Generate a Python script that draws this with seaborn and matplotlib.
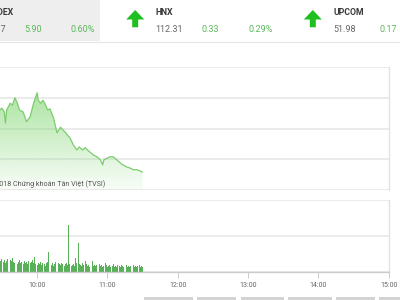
import numpy as np
import pandas as pd
import matplotlib
matplotlib.use("Agg")
import matplotlib.pyplot as plt
import seaborn as sns
from matplotlib.patches import Polygon, Rectangle

# ---------------- data ----------------
line_times = ["09:28", "09:30", "09:32", "09:33", "09:34", "09:37", "09:39", "09:41", "09:43", "09:45",
              "09:48", "09:51", "09:54", "09:57", "10:00", "10:01", "10:03", "10:05", "10:07", "10:09",
              "10:11", "10:14", "10:17", "10:20", "10:22", "10:24", "10:26", "10:28", "10:31",
              "10:34", "10:36", "10:37", "10:39", "10:41", "10:43", "10:45", "10:48", "10:51", "10:54",
              "10:56", "10:57", "11:00", "11:02", "11:05", "11:08", "11:11", "11:13",
              "11:17", "11:19", "11:22", "11:25", "11:28", "11:30"]
line_values = [998.0, 998.3, 997.7, 995.9, 998.0, 999.1, 998.8, 1000.0, 999.2, 998.0,
               997.7, 996.1, 996.9, 999.1, 1000.8, 999.6, 999.1, 999.6, 998.9, 998.0,
               998.2, 996.7, 994.3, 995.2, 994.8, 994.4, 993.9, 993.5, 992.3,
               991.5, 992.0, 991.8, 991.5, 991.9, 991.5, 991.2, 990.7, 990.4, 989.9,
               989.1, 989.9, 990.2, 990.4, 990.4, 989.9, 989.4, 989.1,
               988.7, 988.6, 988.3, 988.3, 988.1, 987.9]

vol_start = "09:28"
vol_values = [168, 154, 182, 140, 168, 126, 154, 182, 140, 168, 154, 196,
              140, 126, 154, 112, 140, 168, 126, 140, 112, 154,
              126, 140, 112, 154, 126, 140, 168, 126, 210, 112,
              98, 126, 112, 140, 98, 126, 112, 84, 126, 140,
              280, 112, 98, 126, 84, 112, 140, 98, 126, 112,
              98, 126, 112, 84, 112, 126, 98, 658, 112, 84,
              98, 112, 84, 196, 126, 406, 112, 98, 84, 126,
              98, 154, 112, 84, 98, 70, 112, 154, 84, 98,
              84, 98, 70, 112, 84, 98, 70, 84, 126, 98,
              70, 84, 98, 70, 84, 112, 70, 84, 70, 98,
              84, 70, 98, 84, 70, 84, 98, 70, 84, 70,
              84, 70, 98, 70, 84, 70, 84, 98, 70, 84,
              70]

tick_labels = ["10:00", "11:00", "12:00", "13:00", "14:00", "15:00"]
price_grid = [985, 990, 995, 1000, 1005]
vol_grid = [0, 500, 1000]

names = ["VNINDEX", "HNX", "UPCOM"]
index_values = ["989.17", "112.31", "51.98"]
changes = ["5.90", "0.33", "0.17"]
pcts = ["0.60%", "0.29%", "0.59%"]
watermark = "© 2018 Chứng khoán Tân Việt (TVSI)"

# ---------------- helpers ----------------
def to_min(s):
    h, m = s.split(":")
    return int(h) * 60 + int(m)

W, H = 400, 300
def fx(x): return x / W
def fy(y): return 1 - y / H

df = pd.DataFrame({"t": [to_min(s) for s in line_times], "v": line_values})
v0 = to_min(vol_start)
vdf = pd.DataFrame({"t": np.arange(v0, v0 + len(vol_values)), "vol": vol_values})
tick_pos = [to_min(s) for s in tick_labels]

sns.set_theme(style="white")
plt.rcParams["font.family"] = ["Roboto", "DejaVu Sans"]

fig = plt.figure(figsize=(4, 3), dpi=100)
fig.patch.set_facecolor("white")

x_left_px, x_right_px = -33.2, 388.6
xmin, xmax = 540, 900

# ---------------- price chart ----------------
ax = fig.add_axes([fx(x_left_px), fy(190), (x_right_px - x_left_px) / W, 123 / H])
ax.set_xlim(xmin, xmax)
ax.set_ylim(price_grid[0], price_grid[-1])
ax.set_yticks(price_grid)
ax.set_xticks([])
ax.yaxis.grid(True, color="#e6e6e6", linewidth=1.1)
ax.set_axisbelow(True)
ax.tick_params(left=False, labelleft=False)
for s in ["left", "top", "bottom"]:
    ax.spines[s].set_visible(False)
ax.spines["right"].set_color("#e2e2e2")
ax.spines["right"].set_linewidth(1.0)

poly = ax.fill_between(df["t"], df["v"], price_grid[0], facecolor="none", edgecolor="none")
green = np.array(matplotlib.colors.to_rgb("#86d878"))
n = 256
grad = np.zeros((n, 1, 4))
grad[:, 0, :3] = green
grad[:, 0, 3] = np.linspace(0.85, 0.05, n)
im = ax.imshow(grad, extent=[df["t"].min(), df["t"].max(), price_grid[0], price_grid[-1]],
               aspect="auto", origin="upper", zorder=1, interpolation="bilinear")
im.set_clip_path(poly.get_paths()[0], transform=ax.transData)
sns.lineplot(data=df, x="t", y="v", ax=ax, color="#7ccc6e", linewidth=0.9, zorder=2)
ax.set_xlabel("")
ax.set_ylabel("")

fig.text(fx(105), fy(184.5), watermark, ha="right", va="center", fontsize=5.15, color="#555555")

# ---------------- volume chart ----------------
ax2 = fig.add_axes([fx(x_left_px), fy(272), (x_right_px - x_left_px) / W, 72 / H])
sns.histplot(data=vdf, x="t", weights="vol", discrete=True, shrink=0.8,
             color="#46a846", edgecolor="none", alpha=0.9, ax=ax2)
ax2.set_xlim(xmin, xmax)
ax2.set_ylim(vol_grid[0], vol_grid[-1])
ax2.set_yticks(vol_grid)
ax2.yaxis.grid(True, color="#e6e6e6", linewidth=1.1)
ax2.set_axisbelow(True)
ax2.set_xticks(tick_pos)
ax2.set_xticklabels(tick_labels)
ax2.tick_params(axis="x", bottom=True, length=4, width=0.7, color="#cccccc",
                labelsize=5, labelcolor="#666666", pad=3)
ax2.tick_params(axis="y", left=False, labelleft=False)
ax2.set_xlabel("")
ax2.set_ylabel("")
for s in ["left", "top"]:
    ax2.spines[s].set_visible(False)
ax2.spines["bottom"].set_color("#cccccc")
ax2.spines["bottom"].set_linewidth(1.0)
ax2.spines["right"].set_color("#e2e2e2")
ax2.spines["right"].set_linewidth(1.0)

# ---------------- header ----------------
fig.patches.append(Rectangle((fx(0), fy(41)), fx(100), 41 / H, transform=fig.transFigure,
                             facecolor="#eeeeee", edgecolor="none", zorder=0))
fig.lines.append(matplotlib.lines.Line2D([0, 1], [fy(41.5), fy(41.5)], transform=fig.transFigure,
                                         color="#e6e6e6", linewidth=0.8))
block_x = [-21.9, 155.7, 333.3]
for bx, nm, iv, ch, pc in zip(block_x, names, index_values, changes, pcts):
    fig.text(fx(bx), fy(12.7), nm, ha="left", va="center", fontsize=6.3,
             fontweight="bold", color="#3a3a3a")
    fig.text(fx(bx), fy(29.5), iv, ha="left", va="center", fontsize=6.5, color="#666666")
    fig.text(fx(bx + 46), fy(29.5), ch, ha="left", va="center", fontsize=6.5, color="#5cb85c")
    fig.text(fx(bx + 92.6), fy(29.5), pc, ha="left", va="center", fontsize=6.5, color="#5cb85c")
    if bx > 0:
        axp, ayp = bx - 29.5, 10
        pts = [(0, 9.5), (9, 0), (18, 9.5), (12, 9.5), (12, 17.3), (6, 17.3), (6, 9.5)]
        fig.patches.append(Polygon([(fx(axp + a), fy(ayp + b)) for a, b in pts], closed=True,
                                   transform=fig.transFigure, facecolor="#1fbf1f",
                                   edgecolor="none"))

# ---------------- bottom buttons ----------------
for x0, x1 in [(144, 193), (197, 236), (241, 284), (288, 332), (336, 375), (379, 402)]:
    fig.patches.append(Rectangle((fx(x0), 0), (x1 - x0) / W, 3.5 / H, transform=fig.transFigure,
                                 facecolor="#d3d3d3", edgecolor="none"))

fig.savefig("out.png", dpi=100, facecolor="white")
